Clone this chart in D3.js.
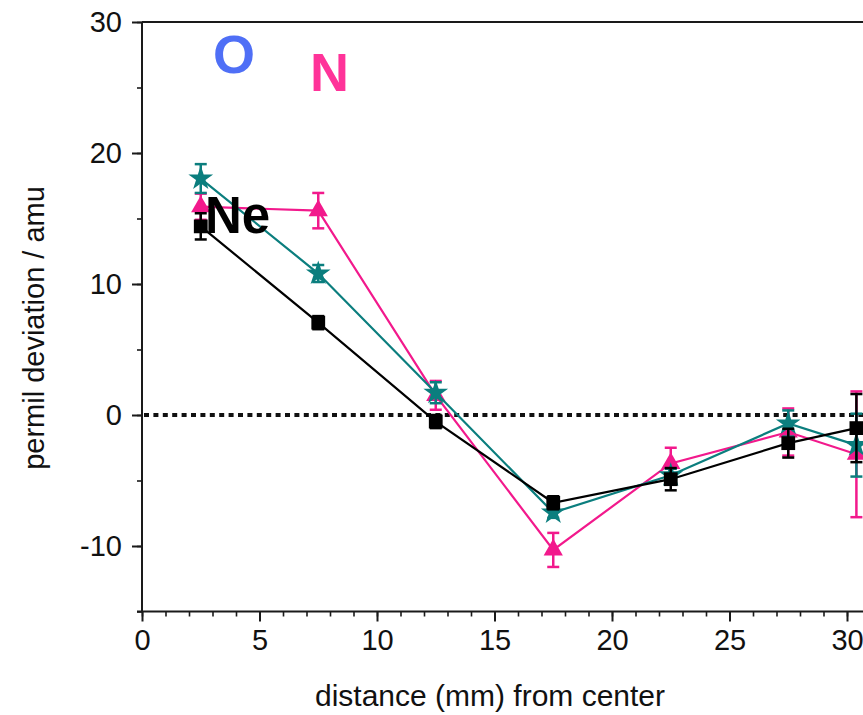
<!DOCTYPE html>
<html>
<head>
<meta charset="utf-8">
<script src="https://d3js.org/d3.v7.min.js"></script>
<style>
  body { margin: 0; background: #fff; }
  text { font-family: "Liberation Sans", Arial, sans-serif; }
</style>
</head>
<body>
<svg width="863" height="715"></svg>
<script>
// positions along the radius (mm)
var distances = [2.5, 7.5, 12.5, 17.5, 22.5, 27.5, 30.4];
// permil deviation per amu, with error bars
var neValues = [14.4, 7.05, -0.5, -6.7, -4.9, -2.15, -1.0];
var neErrors = [1.0, 0.5, 0.5, 0.5, 0.85, 1.1, 2.6];
var nValues  = [15.9, 15.6, 1.5, -10.3, -3.7, -1.3, -3.0];
var nErrors  = [1.0, 1.35, 1.1, 1.3, 1.2, 1.8, 4.8];
var oValues  = [18.05, 10.8, 1.7, -7.45, -4.6, -0.65, -2.3];
var oErrors  = [1.1, 0.65, 0.8, 0.4, 0.5, 1.0, 2.4];
var xTicks = [0, 5, 10, 15, 20, 25, 30];
var yTicks = [-10, 0, 10, 20, 30];

var svg = d3.select("svg");
var W = +svg.attr("width");

var x = d3.scaleLinear().domain([0, 30]).range([142, 847]);
var y = d3.scaleLinear().domain([-15, 30]).range([611.5, 22]);

var axisColor = "#1a1a1a";
var plain = function(d) { return String(d); }; // keep ASCII hyphen for negatives

// minor ticks
svg.append("g")
  .attr("transform", "translate(0," + y(-15) + ")")
  .call(d3.axisBottom(x).tickValues(d3.range(0, 32, 1)).tickSize(5).tickSizeOuter(0).tickFormat(""))
  .call(function(g) { g.select(".domain").remove(); g.selectAll("line").attr("stroke", axisColor).attr("stroke-width", 1.6); });
svg.append("g")
  .attr("transform", "translate(" + x(0) + ",0)")
  .call(d3.axisLeft(y).tickValues(d3.range(-15, 31, 5)).tickSize(5).tickSizeOuter(0).tickFormat(""))
  .call(function(g) { g.select(".domain").remove(); g.selectAll("line").attr("stroke", axisColor).attr("stroke-width", 1.6); });

// major axes
var xAxis = svg.append("g")
  .attr("transform", "translate(0," + y(-15) + ")")
  .call(d3.axisBottom(x).tickValues(xTicks).tickFormat(plain).tickSize(10).tickPadding(8).tickSizeOuter(0));
var yAxis = svg.append("g")
  .attr("transform", "translate(" + x(0) + ",0)")
  .call(d3.axisLeft(y).tickValues(yTicks).tickFormat(plain).tickSize(10).tickPadding(10).tickSizeOuter(0));

[xAxis, yAxis].forEach(function(g) {
  g.select(".domain").remove();
  g.selectAll("line").attr("stroke", axisColor).attr("stroke-width", 2);
  g.selectAll("text").attr("font-size", 29).attr("fill", "#111")
    .attr("font-family", "'Liberation Sans', Arial, sans-serif");
});

// frame lines: left, bottom, top
svg.append("line").attr("x1", x(0)).attr("x2", x(0)).attr("y1", y(30)).attr("y2", y(-15))
  .attr("stroke", axisColor).attr("stroke-width", 2);
svg.append("line").attr("x1", x(0) - 5).attr("x2", W).attr("y1", y(-15)).attr("y2", y(-15))
  .attr("stroke", axisColor).attr("stroke-width", 2);
svg.append("line").attr("x1", x(0)).attr("x2", W).attr("y1", y(30)).attr("y2", y(30))
  .attr("stroke", axisColor).attr("stroke-width", 2);

// zero reference
svg.append("line").attr("x1", x(0) + 2).attr("x2", W).attr("y1", y(0)).attr("y2", y(0))
  .attr("stroke", "#111").attr("stroke-width", 4).attr("stroke-dasharray", "5,4.4");

// axis titles
svg.append("text")
  .attr("x", 490).attr("y", 706)
  .attr("text-anchor", "middle").attr("font-size", 30).attr("fill", "#111")
  .text("distance (mm) from center");
svg.append("text")
  .attr("transform", "translate(44,328) rotate(-90)")
  .attr("text-anchor", "middle").attr("font-size", 29).attr("fill", "#111")
  .text("permil deviation / amu");

var series = [
  { name: "N",  values: nValues,  errors: nErrors,  color: "#f2198c", symbol: d3.symbolTriangle, size: 160 },
  { name: "O",  values: oValues,  errors: oErrors,  color: "#0b7e7e", symbol: d3.symbolStar,     size: 190 },
  { name: "Ne", values: neValues, errors: neErrors, color: "#000000", symbol: d3.symbolSquare,   size: 190 }
];

var line = d3.line()
  .x(function(d) { return x(d.x); })
  .y(function(d) { return y(d.v); });

series.forEach(function(s) {
  var pts = distances.map(function(d, i) { return { x: d, v: s.values[i], e: s.errors[i] }; });
  var g = svg.append("g");
  g.append("path").datum(pts)
    .attr("d", line).attr("fill", "none")
    .attr("stroke", s.color).attr("stroke-width", 2.2);

  var eb = g.selectAll(".err").data(pts).enter().append("g");
  eb.append("line")
    .attr("x1", function(d) { return x(d.x); }).attr("x2", function(d) { return x(d.x); })
    .attr("y1", function(d) { return y(d.v + d.e); }).attr("y2", function(d) { return y(d.v - d.e); })
    .attr("stroke", s.color).attr("stroke-width", 2.5);
  [1, -1].forEach(function(sign) {
    eb.append("line")
      .attr("x1", function(d) { return x(d.x) - 6; }).attr("x2", function(d) { return x(d.x) + 6; })
      .attr("y1", function(d) { return y(d.v + sign * d.e); }).attr("y2", function(d) { return y(d.v + sign * d.e); })
      .attr("stroke", s.color).attr("stroke-width", 2.5);
  });

  g.selectAll(".pt").data(pts).enter().append("path")
    .attr("transform", function(d) { return "translate(" + x(d.x) + "," + y(d.v) + ")"; })
    .attr("d", d3.symbol().type(s.symbol).size(s.size))
    .attr("fill", s.color);
});

// series labels
svg.append("text").attr("x", 213).attr("y", 73)
  .attr("font-size", 54).attr("font-weight", "bold").attr("fill", "#4f6ff6").text("O");
svg.append("text").attr("x", 310).attr("y", 91)
  .attr("font-size", 54).attr("font-weight", "bold").attr("fill", "#ff3399").text("N");
svg.append("text").attr("x", 205).attr("y", 233)
  .attr("font-size", 51).attr("font-weight", "bold").attr("fill", "#000").text("Ne");
</script>
</body>
</html>
